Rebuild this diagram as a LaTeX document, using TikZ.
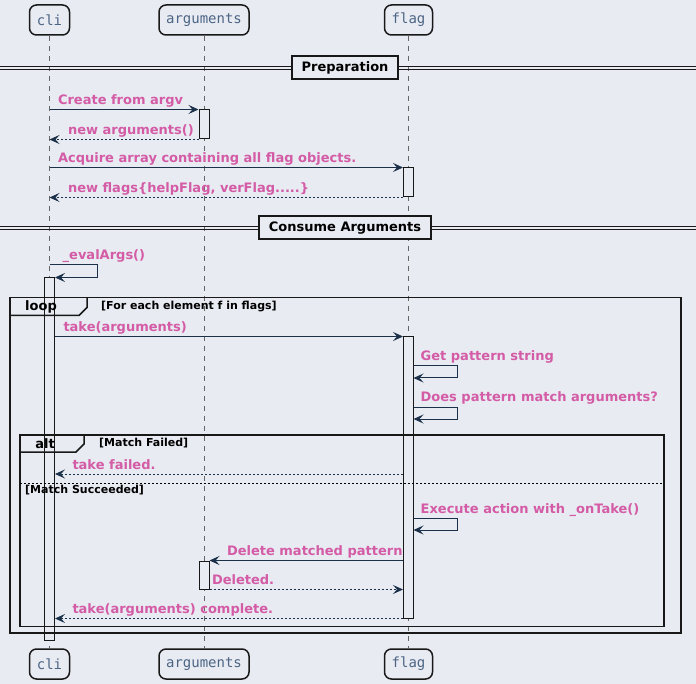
\documentclass[tikz,border=0pt]{standalone}
\usepackage{fontspec}
\setmainfont{DejaVu Sans}
\setmonofont{DejaVu Sans Mono}
\usetikzlibrary{arrows.meta,calc}
\definecolor{umlbg}{HTML}{E8EBF2}
\definecolor{msgpink}{HTML}{D45BA5}
\definecolor{msgline}{HTML}{1B3049}
\definecolor{partxt}{HTML}{4D6585}
\definecolor{boxline}{HTML}{181818}
\begin{document}
\begin{tikzpicture}[x=1pt,y=-1pt,
participant/.style={draw=boxline,fill=umlbg,line width=1.5pt,rounded corners=7pt,minimum height=30pt,
  inner sep=0pt,text=partxt,font=\ttfamily\fontsize{14}{16}\selectfont},
lifeline/.style={draw=black!60,line width=0.8pt,dash pattern=on 5pt off 5pt},
actbox/.style={draw=boxline,fill=umlbg,line width=1pt,minimum width=10pt,inner sep=0pt},
msg/.style={draw=msgline,line width=1pt,-{Stealth[length=10pt,width=9pt,inset=4pt]}},
ret/.style={msg,dash pattern=on 2pt off 2pt},
lbl/.style={anchor=base west,yshift=5pt,inner sep=0pt,text=msgpink,font=\bfseries\fontsize{13}{15}\selectfont},
sepline/.style={draw=boxline,line width=1pt},
sepbox/.style={draw=boxline,fill=umlbg,line width=2pt,minimum height=23pt,inner sep=0pt,
  font=\bfseries\fontsize{13}{15}\selectfont},
frame/.style={draw=boxline,line width=1.5pt},
tabtxt/.style={inner sep=0pt,font=\bfseries\fontsize{13}{15}\selectfont},
guard/.style={anchor=west,inner sep=0pt,font=\bfseries\fontsize{11}{13}\selectfont}]
\fill[umlbg] (0,0) rectangle (696,684);
\useasboundingbox (0,0) rectangle (696,684);

% participants
\node[participant,minimum width=40pt] (cliT) at (49.5,20) {cli};
\node[participant,minimum width=90pt] (argT) at (204,20) {arguments};
\node[participant,minimum width=48pt] (flagT) at (408.5,20) {flag};
\node[participant,minimum width=40pt] (cliB) at (49.5,664) {cli};
\node[participant,minimum width=90pt] (argB) at (204,664) {arguments};
\node[participant,minimum width=48pt] (flagB) at (408.5,664) {flag};
\draw[lifeline] (cliT) -- (cliB);
\draw[lifeline] (argT) -- (argB);
\draw[lifeline] (flagT) -- (flagB);

% separators
\draw[sepline] (0,66.5) -- (696,66.5) (0,69.5) -- (696,69.5);
\node[sepbox,minimum width=106pt] (prep) at (345,68) {Preparation};
\draw[sepline] (0,226.5) -- (696,226.5) (0,229.5) -- (696,229.5);
\node[sepbox,minimum width=172pt] (consume) at (345,228) {Consume Arguments};

% activations
\node[actbox,minimum height=29pt] (argA1) at (204,124.5) {};
\node[actbox,minimum height=29pt] (flagA1) at (408.5,182.5) {};
\node[actbox,minimum height=362pt] (cliA) at (49.5,459) {};
\node[actbox,minimum height=281pt] (flagA2) at (408.5,477.5) {};
\node[actbox,minimum height=28pt] (argA2) at (204,575) {};

% frames
\draw[frame] (10,297.5) rectangle (681,633);
\draw[frame] (10,315.5) -- (79,315.5) -- (87,307.5) -- (87,297.5);
\node[tabtxt] (loopT) at (41,306.5) {loop};
\node[guard] (loopG) at (101,306.5) {[For each element f in flags]};
\draw[frame] (20,435) rectangle (664,626.5);
\draw[frame] (20,452) -- (76,452) -- (84,444) -- (84,435);
\node[tabtxt] (altT) at (45,443.5) {alt};
\node[guard] (altG1) at (99,443.5) {[Match Failed]};
\draw[line width=1pt,dash pattern=on 2pt off 2pt] (20,483) -- (664,483);
\node[guard] (altG2) at (25,490.5) {[Match Succeeded]};

% messages
\coordinate (evalS) at (49.5,265);
\coordinate (getP) at (413.5,366);
\coordinate (doesP) at (413.5,407);
\coordinate (rowFail) at (300,474);
\coordinate (execS) at (413.5,518);

\draw[msg] (argA1.north west -| cliT) -- (argA1.north west) node[lbl,at start,xshift=8pt] {Create from argv};
\draw[ret] (argA1.south west) -- (argA1.south west -| cliT) node[lbl,at end,xshift=18pt] {new arguments()};
\draw[msg] (flagA1.north west -| cliT) -- (flagA1.north west) node[lbl,at start,xshift=8pt] {Acquire array containing all flag objects.};
\draw[ret] (flagA1.south west) -- (flagA1.south west -| cliT) node[lbl,at end,xshift=18pt] {new flags\{helpFlag, verFlag.....\}};
\draw[msg] (evalS) -- ++(47.5,0) |- (cliA.north east);
\node[lbl,xshift=13pt] (evalL) at (evalS) {\_evalArgs()};
\draw[msg] (flagA2.north west -| cliA.east) -- (flagA2.north west) node[lbl,at start,xshift=8pt] {take(arguments)};
\draw[msg] (getP) -- ++(44,0) -- ++(0,12) -- ++(-44,0);
\node[lbl,xshift=7pt] (getL) at (getP) {Get pattern string};
\draw[msg] (doesP) -- ++(44,0) -- ++(0,12) -- ++(-44,0);
\node[lbl,xshift=7pt] (doesL) at (doesP) {Does pattern match arguments?};
\draw[ret] (flagA2.west |- rowFail) -- (cliA.east |- rowFail) node[lbl,at end,xshift=17pt] {take failed.};
\draw[msg] (execS) -- ++(44,0) -- ++(0,12) -- ++(-44,0);
\node[lbl,xshift=7pt] (execL) at (execS) {Execute action with \_onTake()};
\draw[msg] (argA2.north east -| flagA2.west) -- (argA2.north east) node[lbl,at end,xshift=17pt] {Delete matched pattern};
\draw[ret] (argA2.south east) -- (argA2.south east -| flagA2.west) node[lbl,at start,xshift=2pt] {Deleted.};
\draw[ret] (flagA2.south west) -- (flagA2.south west -| cliA.east) node[lbl,at end,xshift=17pt] {take(arguments) complete.};
\end{tikzpicture}
\end{document}
